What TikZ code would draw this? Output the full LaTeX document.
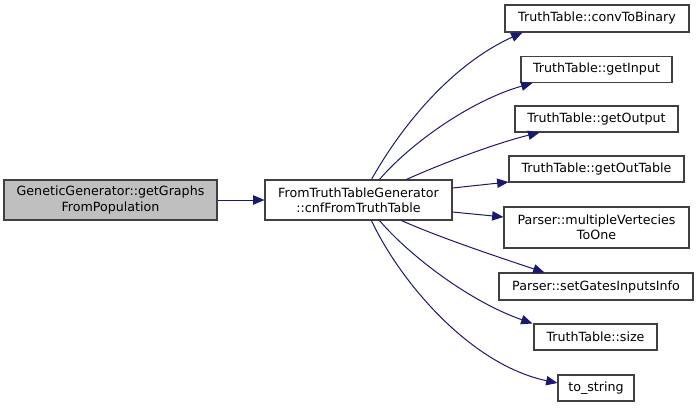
\documentclass[tikz,border=0pt]{standalone}
\usepackage{fontspec}
\setmainfont{DejaVu Sans}
\usetikzlibrary{calc,arrows.meta}
\definecolor{edgec}{HTML}{191970}
\definecolor{boxc}{HTML}{404040}
\definecolor{fillc}{HTML}{BFBFBF}
\tikzset{
  fn/.style={draw=boxc, line width=0.8pt, fill=white, inner sep=0pt, align=center,
    font=\fontsize{9.5}{11.4}\selectfont},
  cur/.style={fill=fillc},
  call/.style={draw=edgec, line width=0.75pt, -{Triangle[length=8.5pt,width=7pt]}}
}
\begin{document}
\begin{tikzpicture}[x=0.75pt,y=-0.75pt]
\useasboundingbox (0,0) rectangle (699,408);
\node[fn,cur,minimum width=213*0.75pt,minimum height=40*0.75pt] (gg) at (110.5,200) {GeneticGenerator::getGraphs\\FromPopulation};
\node[fn,minimum width=187*0.75pt,minimum height=40*0.75pt] (ft) at (358.5,200) {FromTruthTableGenerator\\::cnfFromTruthTable};
\node[fn,minimum width=184*0.75pt,minimum height=27*0.75pt] (n1) at (597,18.5) {TruthTable::convToBinary};
\node[fn,minimum width=151*0.75pt,minimum height=26*0.75pt] (n2) at (596.5,69.5) {TruthTable::getInput};
\node[fn,minimum width=163*0.75pt,minimum height=26*0.75pt] (n3) at (596.5,119) {TruthTable::getOutput};
\node[fn,minimum width=175*0.75pt,minimum height=26*0.75pt] (n4) at (596.5,169) {TruthTable::getOutTable};
\node[fn,minimum width=185*0.75pt,minimum height=41*0.75pt] (n5) at (596.5,227.5) {Parser::multipleVertecies\\ToOne};
\node[fn,minimum width=194*0.75pt,minimum height=27*0.75pt] (n6) at (596,286.5) {Parser::setGatesInputsInfo};
\node[fn,minimum width=123*0.75pt,minimum height=26*0.75pt] (n7) at (595.5,337) {TruthTable::size};
\node[fn,minimum width=76*0.75pt,minimum height=26*0.75pt] (n8) at (596,388) {to\_string};

\draw[call] (gg.east) -- (ft.west);
\draw[call] ($(ft.north west)+(107,0)$) .. controls +(28,-50) and ($(n1.south west)+(-55,33)$) .. ($(n1.south west)+(18,0)$);
\draw[call] ($(ft.north west)+(115,0)$) .. controls +(30,-35) and ($(n2.south west)+(-51,18)$) .. ($(n2.south west)+(12,0)$);
\draw[call] ($(ft.north west)+(142,0)$) .. controls +(33,-15) and ($(n3.south west)+(-20,11)$) .. ($(n3.south west)+(25,0)$);
\draw[call] ($(ft.east)+(0,-12)$) -- (n4.west |- 0,182);
\draw[call] ($(ft.east)+(0,12)$) -- (n5.west |- 0,217);
\draw[call] ($(ft.south west)+(137,0)$) .. controls +(38,17) and ($(n6.north west)+(1,-15)$) .. ($(n6.north west)+(46,0)$);
\draw[call] ($(ft.south west)+(115,0)$) .. controls +(30,35) and ($(n7.north west)+(-64,-22)$) .. ($(n7.north west)+(-1,0)$);
\draw[call] ($(ft.south west)+(107,0)$) .. controls +(28,60) and ($(n8.north west)+(-88,-10)$) .. ($(n8.west)+(0,-5)$);
\end{tikzpicture}
\end{document}
